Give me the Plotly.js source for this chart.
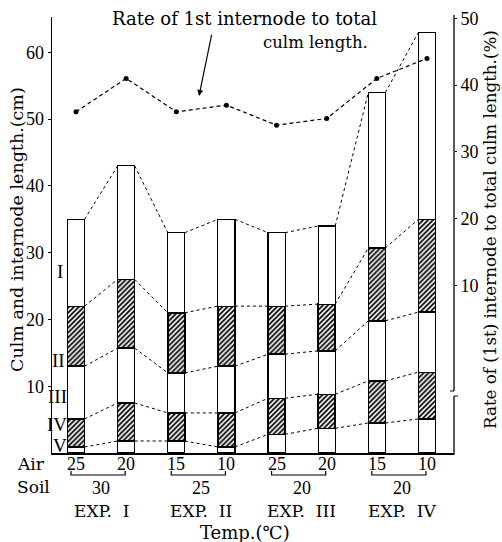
<!DOCTYPE html>
<html>
<head>
<meta charset="utf-8">
<script src="https://cdn.plot.ly/plotly-3.0.1.min.js"></script>
<style>html,body{margin:0;padding:0;background:#fff;}#chart{width:502px;height:542px;}</style>
</head>
<body>
<div id="chart"></div>
<script>
// ---- data ----
const barPos = [1, 2, 3, 4, 5, 6, 7, 8];
const airTemps = ['25', '20', '15', '10', '25', '20', '15', '10'];
const soilTemps = ['30', '25', '20', '20'];
const expLabels = ['EXP.\u00a0 I', 'EXP.\u00a0 II', 'EXP.\u00a0 III', 'EXP.\u00a0 IV'];
const internodeNames = ['I', 'II', 'III', 'IV', 'V'];
// internode lengths (cm), bottom (V) to top (I)
const internodeV = [0.9, 1.8, 1.8, 0.9, 2.8, 3.7, 4.5, 5.1];
const internodeIV = [4.2, 5.7, 4.2, 5.1, 5.4, 5.1, 6.3, 7.0];
const internodeIII = [7.9, 8.2, 6.0, 7.0, 6.6, 6.5, 9.0, 9.0];
const internodeII = [9.0, 10.3, 9.0, 9.0, 7.2, 7.0, 10.9, 13.9];
const internodeI = [13.0, 17.0, 12.0, 13.0, 11.0, 11.7, 23.3, 28.0];
// rate of 1st internode to total culm length (%)
const rateFirst = [36, 41, 36, 37, 34, 35, 41, 44];
const leftTicks = [10, 20, 30, 40, 50, 60];
const rightTicks = [10, 20, 30, 40, 50];

// ---- layout geometry ----
const W = 502, H = 542;
const M = {l: 52, r: 48, t: 17, b: 89};
const PW = W - M.l - M.r, PH = H - M.t - M.b;
const px = x => (x - M.l) / PW;
const py = y => (H - M.b - y) / PH;
const FONT = 'DejaVu Serif';
const NFONT = 'Liberation Serif';
const BW = 0.34;
const f = (size, fam) => ({family: fam || FONT, size: size, color: '#000'});

const segs = [internodeV, internodeIV, internodeIII, internodeII, internodeI];
const hatched = [false, true, false, true, false];
const traces = [];
segs.forEach((s, k) => {
  traces.push({
    type: 'bar', x: barPos, y: s, width: BW,
    marker: {
      color: '#fff',
      line: {color: '#000', width: hatched[k] ? 1.6 : 1.1},
      pattern: hatched[k] ? {shape: '/', fgcolor: '#000', bgcolor: '#fff', size: 3.5, solidity: 0.5} : {shape: ''}
    },
    hoverinfo: 'skip', showlegend: false
  });
});

// cumulative boundaries and dashed connectors between neighbouring bars
const cum = [];
let run = barPos.map(() => 0);
segs.forEach(s => { run = run.map((v, i) => v + s[i]); cum.push(run.slice()); });
const cx = [], cy = [];
cum.forEach(level => {
  for (let i = 0; i < barPos.length - 1; i++) {
    cx.push(barPos[i] + BW / 2, barPos[i + 1] - BW / 2, null);
    cy.push(level[i], level[i + 1], null);
  }
});
traces.push({
  type: 'scatter', mode: 'lines', x: cx, y: cy,
  line: {color: '#000', width: 1, dash: '3px,3px'},
  connectgaps: false, hoverinfo: 'skip', showlegend: false
});

// rate line
traces.push({
  type: 'scatter', mode: 'lines+markers', x: barPos, y: rateFirst, yaxis: 'y2',
  line: {color: '#000', width: 1.2, dash: '4px,3px'},
  marker: {color: '#000', size: 5},
  hoverinfo: 'skip', showlegend: false
});

const ann = [];
const txt = (text, x, y, opts) => ann.push(Object.assign({
  text, x, y, xref: 'paper', yref: 'paper', showarrow: false,
  xanchor: 'center', yanchor: 'middle', font: f(15)
}, opts || {}));

// title and arrow
txt('Rate of 1st internode to total', px(244), py(18), {font: f(18)});
txt('culm length.', px(370), py(43), {xanchor: 'right', font: f(16.5)});
ann.push({text: '', x: px(199), y: py(96), xref: 'paper', yref: 'paper',
  showarrow: true, ax: 13, ay: -63, arrowhead: 2, arrowsize: 1, arrowwidth: 1.2, arrowcolor: '#000', standoff: 0});

// axis titles
txt('Culm and internode length.(cm)', px(17), py(230), {textangle: -90, font: f(17.5)});
txt('Rate of (1st) internode to total culm length.(%)', px(490), py(230), {textangle: -90, font: f(16.7)});

// internode labels
const romanX = [60, 58, 57, 57, 60];
const romanY = [271, 360, 396, 424, 445];
internodeNames.forEach((n, i) => txt(n, px(romanX[i]), py(romanY[i]), {font: f(19, NFONT)}));

// bottom labels
txt('Air', px(31), py(464), {font: f(17)});
txt('Soil', px(33), py(487), {font: f(17)});
airTemps.forEach((t, i) => ann.push({text: t, x: barPos[i], y: py(464), xref: 'x', yref: 'paper',
  xanchor: 'center', yanchor: 'middle', showarrow: false, font: f(18, NFONT)}));
soilTemps.forEach((t, j) => ann.push({text: t, x: (barPos[2 * j] + barPos[2 * j + 1]) / 2, y: py(488), xref: 'x', yref: 'paper',
  xanchor: 'center', yanchor: 'middle', showarrow: false, font: f(18, NFONT)}));
expLabels.forEach((t, j) => ann.push({text: t, x: (barPos[2 * j] + barPos[2 * j + 1]) / 2, y: py(511), xref: 'x', yref: 'paper',
  xanchor: 'center', yanchor: 'middle', showarrow: false, font: f(17)}));
txt('Temp.(\u2103)', px(245), py(532), {font: f(18)});

// brackets
const shapes = [];
for (let j = 0; j < 4; j++) {
  const a = barPos[2 * j] - 0.1, b = barPos[2 * j + 1] - 0.02;
  shapes.push({type: 'path', xref: 'x', yref: 'paper',
    path: `M ${a} ${py(471)} L ${a} ${py(475)} L ${b} ${py(475)} L ${b} ${py(471)}`,
    line: {color: '#000', width: 1.2}});
}
// right axis line with a break
shapes.push({type: 'line', xref: 'paper', yref: 'paper', x0: 1, x1: 1, y0: py(15), y1: py(391), line: {color: '#000', width: 1.3}});
shapes.push({type: 'line', xref: 'paper', yref: 'paper', x0: 1, x1: 1, y0: py(396), y1: py(455), line: {color: '#000', width: 1.3}});
shapes.push({type: 'line', xref: 'paper', yref: 'paper', x0: px(450), x1: px(454), y0: py(391), y1: py(391), line: {color: '#000', width: 1}});
shapes.push({type: 'line', xref: 'paper', yref: 'paper', x0: px(454), x1: px(458), y0: py(396), y1: py(396), line: {color: '#000', width: 1}});

const layout = {
  width: W, height: H, autosize: false,
  margin: {l: M.l, r: M.r, t: M.t, b: M.b, pad: 0},
  paper_bgcolor: '#fff', plot_bgcolor: '#fff',
  barmode: 'stack', showlegend: false,
  font: f(15),
  xaxis: {range: [0.521, 8.539], showticklabels: false, ticks: '', showgrid: false, zeroline: false,
    showline: true, linecolor: '#000', linewidth: 1.5, fixedrange: true},
  yaxis: {range: [0, 65.3], tickvals: leftTicks, ticktext: leftTicks.map(String), ticks: 'outside', ticklen: 3,
    tickcolor: '#000', showgrid: false, zeroline: false, showline: true, linecolor: '#000', linewidth: 1.5,
    tickfont: f(18, NFONT), ticklabelstandoff: 0},
  yaxis2: {overlaying: 'y', side: 'right', range: [-15.1, 50.2], tickvals: rightTicks, ticktext: rightTicks.map(String),
    ticks: 'outside', ticklen: 2, tickcolor: '#000', showgrid: false, zeroline: false, showline: false,
    tickfont: f(18, NFONT)},
  annotations: ann,
  shapes: shapes
};

Plotly.newPlot('chart', traces, layout, {staticPlot: true, displayModeBar: false});
</script>
</body>
</html>
